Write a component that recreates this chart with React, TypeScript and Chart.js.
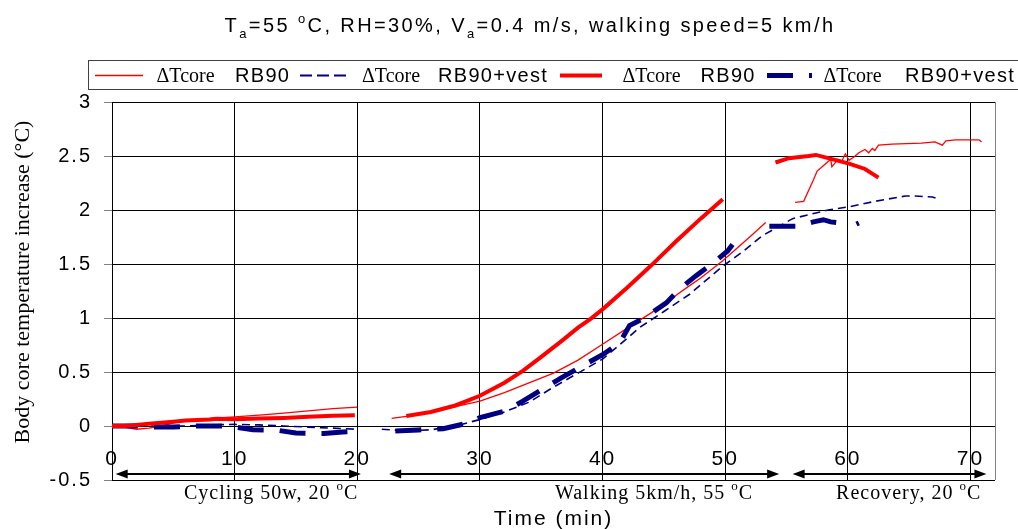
import React, { useEffect, useRef } from "react";
import { Chart, registerables } from "chart.js";

Chart.register(...registerables);

const SANS = "'Liberation Sans', Arial, sans-serif";
const SERIF = "'Liberation Serif', 'Times New Roman', serif";

// Time (min) and core temperature increase (°C); null marks a break in the record
const rb90ThinT = [0, 1, 2, 3, 4, 5, 6, 8, 10, 12, 14, 16, 18, 20, 21.5, 22.8, 24, 26, 28, 30, 32, 34, 36, 38, 40, 42.2, 44, 46, 47.1, 48, 49.8, 52, 53.3, 54.5, 55.7, 56.4, 56.8, 57.2, 57.5, 58.0, 58.6, 58.7, 59.2, 59.5, 59.8, 60.1, 60.5, 60.9, 61.4, 61.7, 62.0, 62.2, 62.5, 63.6, 66.0, 67.1, 67.7, 68.0, 68.8, 70.7, 70.9];
const rb90ThinV = [0, -0.01, -0.03, -0.02, 0.0, 0.03, 0.05, 0.07, 0.085, 0.1, 0.12, 0.14, 0.16, 0.175, null, 0.07, 0.09, 0.13, 0.18, 0.23, 0.31, 0.40, 0.49, 0.61, 0.757, 0.92, 1.05, 1.21, 1.30, 1.37, 1.53, 1.75, 1.885, null, 2.07, 2.08, 2.18, 2.28, 2.36, 2.41, 2.47, 2.40, 2.47, 2.45, 2.52, 2.46, 2.49, 2.53, 2.56, 2.53, 2.57, 2.55, 2.60, 2.61, 2.62, 2.63, 2.60, 2.64, 2.65, 2.65, 2.63];

const vestThinT = [0, 3, 6, 8, 10, 12, 14, 16, 18, 20, 21, 22, 24, 26, 28, 30, 32, 34, 36, 38, 40, 42.2, 43, 45, 47.1, 49.8, 51.5, 53, 55.5, 58.4, 60.1, 62.2, 64.7, 65.5, 66.9, 67.5];
const vestThinV = [0, 0, 0, 0.01, 0.015, 0.01, 0, -0.01, -0.02, -0.03, null, -0.03, -0.045, -0.035, 0, 0.06, 0.13, 0.22, 0.36, 0.49, 0.62, 0.83, 0.91, 1.06, 1.22, 1.48, 1.62, 1.76, 1.92, 2.0, 2.03, 2.08, 2.13, 2.13, 2.12, 2.10];

const rb90ThickT = [0, 1, 2, 3, 4, 5, 6, 8, 8.5, 10, 12, 14, 16, 18, 19.8, 21, 24, 26, 28, 30, 32, 33.5, 35, 36.7, 38, 39, 40, 42, 44, 46, 48, 49.8, 52, 54.1, 55.2, 56.8, 57.4, 58.4, 60.1, 61.4, 62.5];
const rb90ThickV = [0, 0, 0.01, 0.02, 0.03, 0.04, 0.05, 0.06, 0.068, 0.062, 0.07, 0.075, 0.085, 0.095, 0.1, null, 0.093, 0.13, 0.19, 0.28, 0.40, 0.51, 0.64, 0.79, 0.91, 0.99, 1.08, 1.28, 1.49, 1.71, 1.92, 2.10, null, 2.44, 2.48, 2.50, 2.51, 2.48, 2.43, 2.38, 2.30];

const vestThickT = [0, 2, 3, 5, 7, 9, 10, 11.5, 13.5, 15, 17.3, 18.8, 20, 21.5, 23.1, 25, 27, 28.6, 30, 32.1, 33.5, 35.1, 36.7, 38.1, 40, 41.4, 42.2, 43.4, 45.2, 46.3, 47.6, 48.9, 50.2, 50.6, 52, 53.6, 55.9, 57.2, 58, 58.6, 59.3, 60, 60.7, 60.9];
const vestThickV = [0, 0, -0.01, -0.01, 0, 0, -0.01, -0.035, -0.04, -0.065, -0.07, -0.055, -0.05, null, -0.046, -0.037, -0.025, 0.016, 0.078, 0.14, 0.23, 0.34, 0.45, 0.54, 0.66, 0.77, 0.93, 1.0, 1.14, 1.27, 1.39, 1.50, 1.62, 1.68, null, 1.85, 1.85, 1.89, 1.91, 1.89, 1.88, null, 1.87, 1.88];

const xTickValues = [0, 10, 20, 30, 40, 50, 60, 70];
const yTickValues = [-0.5, 0, 0.5, 1, 1.5, 2, 2.5, 3];

const seriesSymbol = ["ΔTcore", "ΔTcore", "ΔTcore", "ΔTcore"];
const seriesSuffix = ["RB90", "RB90+vest", "RB90", "RB90+vest"];

const phaseNames = ["Cycling 50w, 20 ", "Walking 5km/h, 55 ", "Recovery, 20 "];
const phaseArrowStart = [0.3, 22.6, 55.5];
const phaseArrowEnd = [20.3, 54.4, 71.3];
const phaseLabelEnd = [20, 52.2, 70.8];

const yAxisTitle = "Body core temperature increase (°C)";
const xAxisTitle = "Time (min)";

type Piece = { t: string; k?: "sub" | "sup" };
const titlePieces: Piece[] = [
  { t: "T" }, { t: "a", k: "sub" }, { t: "=55 " }, { t: "o", k: "sup" },
  { t: "C, RH=30%, V" }, { t: "a", k: "sub" }, { t: "=0.4 m/s, walking speed=5 km/h" },
];

function toPoints(t: number[], v: (number | null)[]) {
  return t.map((x, i) => ({ x, y: v[i] }));
}

function drawRich(
  ctx: CanvasRenderingContext2D, pieces: Piece[], x: number, baseline: number,
  size: number, family: string, spacing: number, align: "left" | "center" | "right"
) {
  const small = Math.round(size * 0.65);
  const fontFor = (p: Piece) => `${p.k ? small : size}px ${family}`;
  (ctx as any).letterSpacing = `${spacing}px`;
  ctx.textAlign = "left";
  ctx.textBaseline = "alphabetic";
  let w = 0;
  const widths = pieces.map((p) => {
    ctx.font = fontFor(p);
    const m = ctx.measureText(p.t).width;
    w += m;
    return m;
  });
  let cx = align === "center" ? x - w / 2 : align === "right" ? x - w : x;
  pieces.forEach((p, i) => {
    ctx.font = fontFor(p);
    const dy = p.k === "sub" ? size * 0.28 : p.k === "sup" ? -size * 0.45 : 0;
    ctx.fillText(p.t, cx, baseline + dy);
    cx += widths[i];
  });
}

const lineStyles = [
  { color: "#ff0000", width: 1.3, dash: [] as number[] },
  { color: "#000080", width: 1.6, dash: [8, 5] },
  { color: "#ff0000", width: 4, dash: [] as number[] },
  { color: "#000080", width: 5, dash: [26, 16] },
];

const decorPlugin = {
  id: "decor",
  beforeDraw(chart: any) {
    (chart.ctx as any).letterSpacing = "2px";
  },
  afterDraw(chart: any) {
    const ctx: CanvasRenderingContext2D = chart.ctx;
    const xs = chart.scales.x;
    const ca = chart.chartArea;
    ctx.save();
    ctx.fillStyle = "#000";

    // right frame edge
    ctx.strokeStyle = "#808080";
    ctx.lineWidth = 1;
    ctx.beginPath();
    ctx.moveTo(Math.round(ca.right) + 0.5, ca.top);
    ctx.lineTo(Math.round(ca.right) + 0.5, ca.bottom);
    ctx.stroke();

    // title
    drawRich(ctx, titlePieces, 530, 32, 20, SANS, 2.4, "center");

    // legend box
    ctx.strokeStyle = "#404040";
    ctx.lineWidth = 1;
    ctx.strokeRect(88.5, 60.5, 960, 29);
    const ly = 75.5;
    const lay = [
      { s0: 95, s1: 143, d: 156.5, r: 235 },
      { s0: 300, s1: 350, d: 362, r: 438 },
      { s0: 560, s1: 602, d: 622.5, r: 700.5 },
      { s0: 767, s1: 812, d: 823.5, r: 905 },
    ];
    lay.forEach((L, i) => {
      const st = lineStyles[i];
      ctx.strokeStyle = st.color;
      ctx.lineWidth = i === 0 ? 1.6 : i === 1 ? 2.2 : st.width;
      ctx.setLineDash(i === 1 ? [12, 5] : st.dash);
      ctx.beginPath();
      ctx.moveTo(L.s0, ly);
      ctx.lineTo(L.s1, ly);
      ctx.stroke();
      ctx.setLineDash([]);
      ctx.fillStyle = "#000";
      ctx.textAlign = "left";
      ctx.textBaseline = "alphabetic";
      (ctx as any).letterSpacing = "0px";
      ctx.font = `20px ${SERIF}`;
      ctx.fillText(seriesSymbol[i], L.d, 82);
      (ctx as any).letterSpacing = "1.3px";
      ctx.font = `20px ${SANS}`;
      ctx.fillText(seriesSuffix[i], L.r, 82);
    });

    // y axis title
    ctx.save();
    (ctx as any).letterSpacing = "0px";
    ctx.translate(23, 282);
    ctx.rotate(-Math.PI / 2);
    ctx.font = `22px ${SERIF}`;
    ctx.textAlign = "center";
    ctx.textBaseline = "middle";
    ctx.fillText(yAxisTitle, 0, 0);
    ctx.restore();

    // x axis title
    drawRich(ctx, [{ t: xAxisTitle }], (ca.left + ca.right) / 2, 525, 21, SANS, 2, "center");

    // phase arrows and labels
    const ay = 474;
    ctx.strokeStyle = "#000";
    ctx.fillStyle = "#000";
    ctx.lineWidth = 2;
    phaseNames.forEach((name, i) => {
      const x0 = xs.getPixelForValue(phaseArrowStart[i]);
      const x1 = xs.getPixelForValue(phaseArrowEnd[i]);
      const hl = 12, hw = 4.5;
      ctx.beginPath();
      ctx.moveTo(x0 + hl - 1, ay);
      ctx.lineTo(x1 - hl + 1, ay);
      ctx.stroke();
      ctx.beginPath();
      ctx.moveTo(x0, ay);
      ctx.lineTo(x0 + hl, ay - hw);
      ctx.lineTo(x0 + hl, ay + hw);
      ctx.closePath();
      ctx.fill();
      ctx.beginPath();
      ctx.moveTo(x1, ay);
      ctx.lineTo(x1 - hl, ay - hw);
      ctx.lineTo(x1 - hl, ay + hw);
      ctx.closePath();
      ctx.fill();
      drawRich(
        ctx,
        [{ t: name }, { t: "o", k: "sup" }, { t: "C" }],
        xs.getPixelForValue(phaseLabelEnd[i]) + 1,
        499, 20, SERIF, 1, "right"
      );
    });

    ctx.restore();
    (ctx as any).letterSpacing = "0px";
  },
};

export default function App() {
  const ref = useRef<HTMLCanvasElement | null>(null);
  useEffect(() => {
    if (!ref.current) return;
    const series = [
      toPoints(rb90ThinT, rb90ThinV),
      toPoints(vestThinT, vestThinV),
      toPoints(rb90ThickT, rb90ThickV),
      toPoints(vestThickT, vestThickV),
    ];
    const chart = new Chart(ref.current, {
      type: "line",
      data: {
        datasets: series.map((d, i) => ({
          label: `${seriesSymbol[i]} ${seriesSuffix[i]}`,
          data: d,
          borderColor: lineStyles[i].color,
          backgroundColor: lineStyles[i].color,
          borderWidth: lineStyles[i].width,
          borderDash: lineStyles[i].dash,
          pointRadius: 0,
          tension: 0,
          spanGaps: false,
          fill: false,
          order: [2, 3, 0, 1][i],
        })),
      },
      options: {
        responsive: false,
        animation: false,
        layout: { padding: { left: 0, top: 102, right: 23, bottom: 49 } },
        plugins: {
          legend: { display: false },
          title: { display: false },
          tooltip: { enabled: false },
        },
        scales: {
          x: {
            type: "linear",
            position: { y: 0 } as any,
            min: 0,
            max: 72,
            afterBuildTicks: (s: any) => {
              s.ticks = xTickValues.map((v) => ({ value: v }));
            },
            grid: { color: "#000", lineWidth: 1, drawTicks: false },
            border: { display: true, color: "#000", width: 1 },
            ticks: {
              color: "#000",
              font: { family: SANS, size: 21 },
              padding: 21,
              maxRotation: 0,
              autoSkip: false,
              callback: (v: any) => String(v),
            },
          },
          y: {
            type: "linear",
            min: -0.5,
            max: 3,
            afterBuildTicks: (s: any) => {
              s.ticks = yTickValues.map((v) => ({ value: v }));
            },
            afterFit: (s: any) => {
              s.width = 112;
            },
            grid: { color: "#000", lineWidth: 1, tickColor: "#808080", tickLength: 8 },
            border: { display: true, color: "#000", width: 1 },
            ticks: {
              color: "#000",
              font: { family: SANS, size: 20 },
              padding: 12,
              callback: (v: any) => String(v),
            },
          },
        },
      },
      plugins: [decorPlugin],
    } as any);
    return () => chart.destroy();
  }, []);
  return (
    <div style={{ position: "fixed", left: 0, top: 0, width: 1018, height: 529, background: "#fff" }}>
      <canvas ref={ref} width={1018} height={529} style={{ display: "block" }} />
    </div>
  );
}
